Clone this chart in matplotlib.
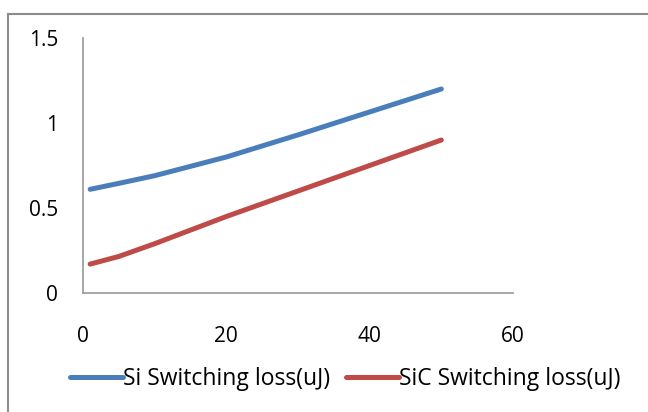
import matplotlib
matplotlib.use("Agg")
from matplotlib import pyplot as plt
from matplotlib.lines import Line2D

# data
x_vals = [1, 5, 10, 20, 30, 40, 50]
si_loss = [0.61, 0.645, 0.69, 0.80, 0.93, 1.065, 1.2]
sic_loss = [0.17, 0.215, 0.29, 0.45, 0.60, 0.75, 0.90]
series_names = ["Si Switching loss(uJ)", "SiC Switching loss(uJ)"]
x_ticks = [0, 20, 40, 60]
y_ticks = [0, 0.5, 1, 1.5]
y_tick_labels = ["0", "0.5", "1", "1.5"]

plt.rcParams["font.family"] = ["Open Sans", "DejaVu Sans"]

fig = plt.figure(figsize=(6.48, 4.12), dpi=100)
ax = fig.add_axes([83 / 648, 1 - 293 / 412, 430 / 648, 255 / 412])

ax.plot(x_vals, si_loss, color="#4a7ebb", lw=3.6, solid_capstyle="round", label=series_names[0])
ax.plot(x_vals, sic_loss, color="#be4b48", lw=3.6, solid_capstyle="round", label=series_names[1])

ax.set_xlim(0, 60)
ax.set_ylim(0, 1.5)
ax.set_xticks(x_ticks)
ax.set_yticks(y_ticks)
ax.set_yticklabels(y_tick_labels)
ax.tick_params(length=0, labelsize=15)
ax.tick_params(axis="x", pad=24)
ax.tick_params(axis="y", pad=18)
for side in ["top", "right"]:
    ax.spines[side].set_visible(False)
for side in ["left", "bottom"]:
    ax.spines[side].set_color("#a0a0a0")
    ax.spines[side].set_linewidth(1.3)

fig.legend(loc="center", bbox_to_anchor=(345 / 648, 1 - 379 / 412), ncol=2, frameon=False,
           fontsize=16.5, handlelength=2.3, handletextpad=0.0, columnspacing=0.7)

# outer chart border (only left and top edges fall inside the image)
fig.add_artist(Line2D([8 / 648, 8 / 648], [0, 1 - 14 / 412], transform=fig.transFigure, color="#8c8c8c", lw=1.5))
fig.add_artist(Line2D([8 / 648, 1], [1 - 14 / 412, 1 - 14 / 412], transform=fig.transFigure, color="#8c8c8c", lw=1.5))

fig.savefig("out.png", dpi=100)
